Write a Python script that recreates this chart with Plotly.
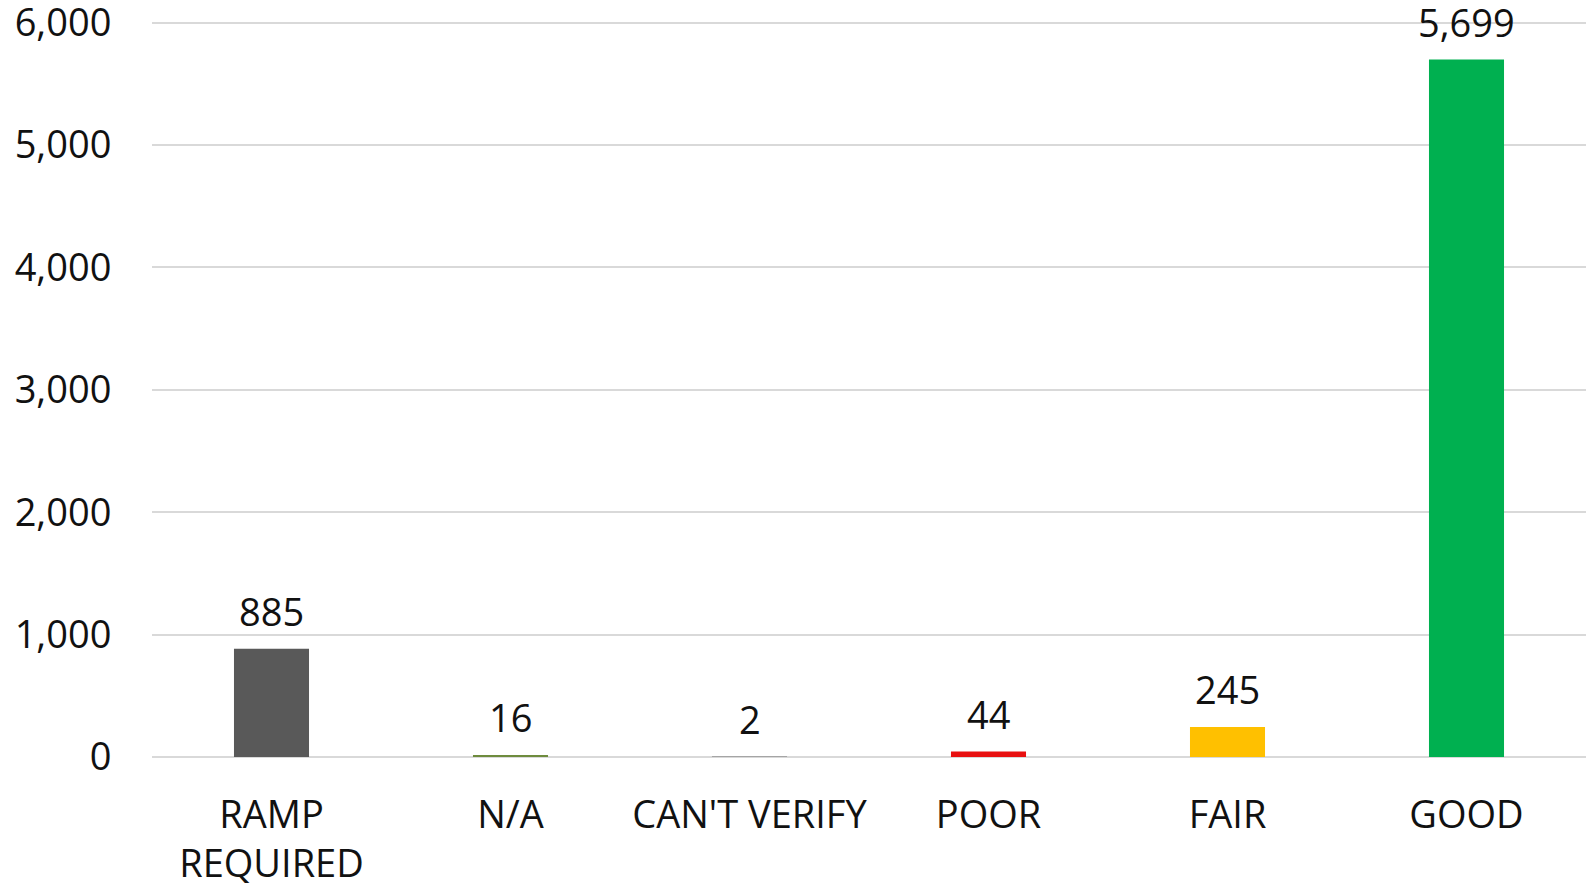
import plotly.graph_objects as go

categories = ["RAMP<br>REQUIRED", "N/A", "CAN'T VERIFY", "POOR", "FAIR", "GOOD"]
values = [885, 16, 2, 44, 245, 5699]
colors = ["#595959", "#6E8B3D", "#A5A5A5", "#E81010", "#FFC000", "#00B050"]
tick_vals = [0, 1000, 2000, 3000, 4000, 5000, 6000]
tick_text = ["0", "1,000", "2,000", "3,000", "4,000", "5,000", "6,000"]

FONT = "Open Sans, Noto Sans, sans-serif"

fig = go.Figure()
fig.add_trace(go.Bar(
    x=categories, y=values,
    marker=dict(color=colors, line=dict(width=0)),
    hoverinfo="skip",
))

for c, v in zip(categories, values):
    fig.add_annotation(
        x=c, y=v, text=f"{v:,}", showarrow=False,
        yanchor="bottom", yshift=10,
        font=dict(family=FONT, size=38, color="#111111"),
    )

fig.update_layout(
    width=1588, height=885,
    margin=dict(l=152, r=2, t=18.6, b=128),
    paper_bgcolor="white", plot_bgcolor="white",
    bargap=0.686,
    showlegend=False,
    font=dict(family=FONT, size=38, color="#111111"),
)
fig.update_xaxes(
    showgrid=False, showline=False, zeroline=False,
    tickfont=dict(family=FONT, size=38, color="#111111"),
    ticks="outside", ticklen=24, tickcolor="rgba(0,0,0,0)",
    automargin=False, ticklabeloverflow="allow",
)
fig.update_yaxes(
    range=[0, 6030], tickvals=tick_vals, ticktext=tick_text,
    showgrid=True, gridcolor="#D9D9D9", gridwidth=1.5,
    zeroline=True, zerolinecolor="#D9D9D9", zerolinewidth=1.5,
    showline=False,
    tickfont=dict(family=FONT, size=38, color="#111111"),
    ticks="outside", ticklen=32, tickcolor="rgba(0,0,0,0)",
    automargin=False, ticklabeloverflow="allow",
)

fig.write_html(
    "out.html",
    config={"displayModeBar": False},
    post_script="document.body.style.margin='0px';document.body.style.padding='0px';",
)
